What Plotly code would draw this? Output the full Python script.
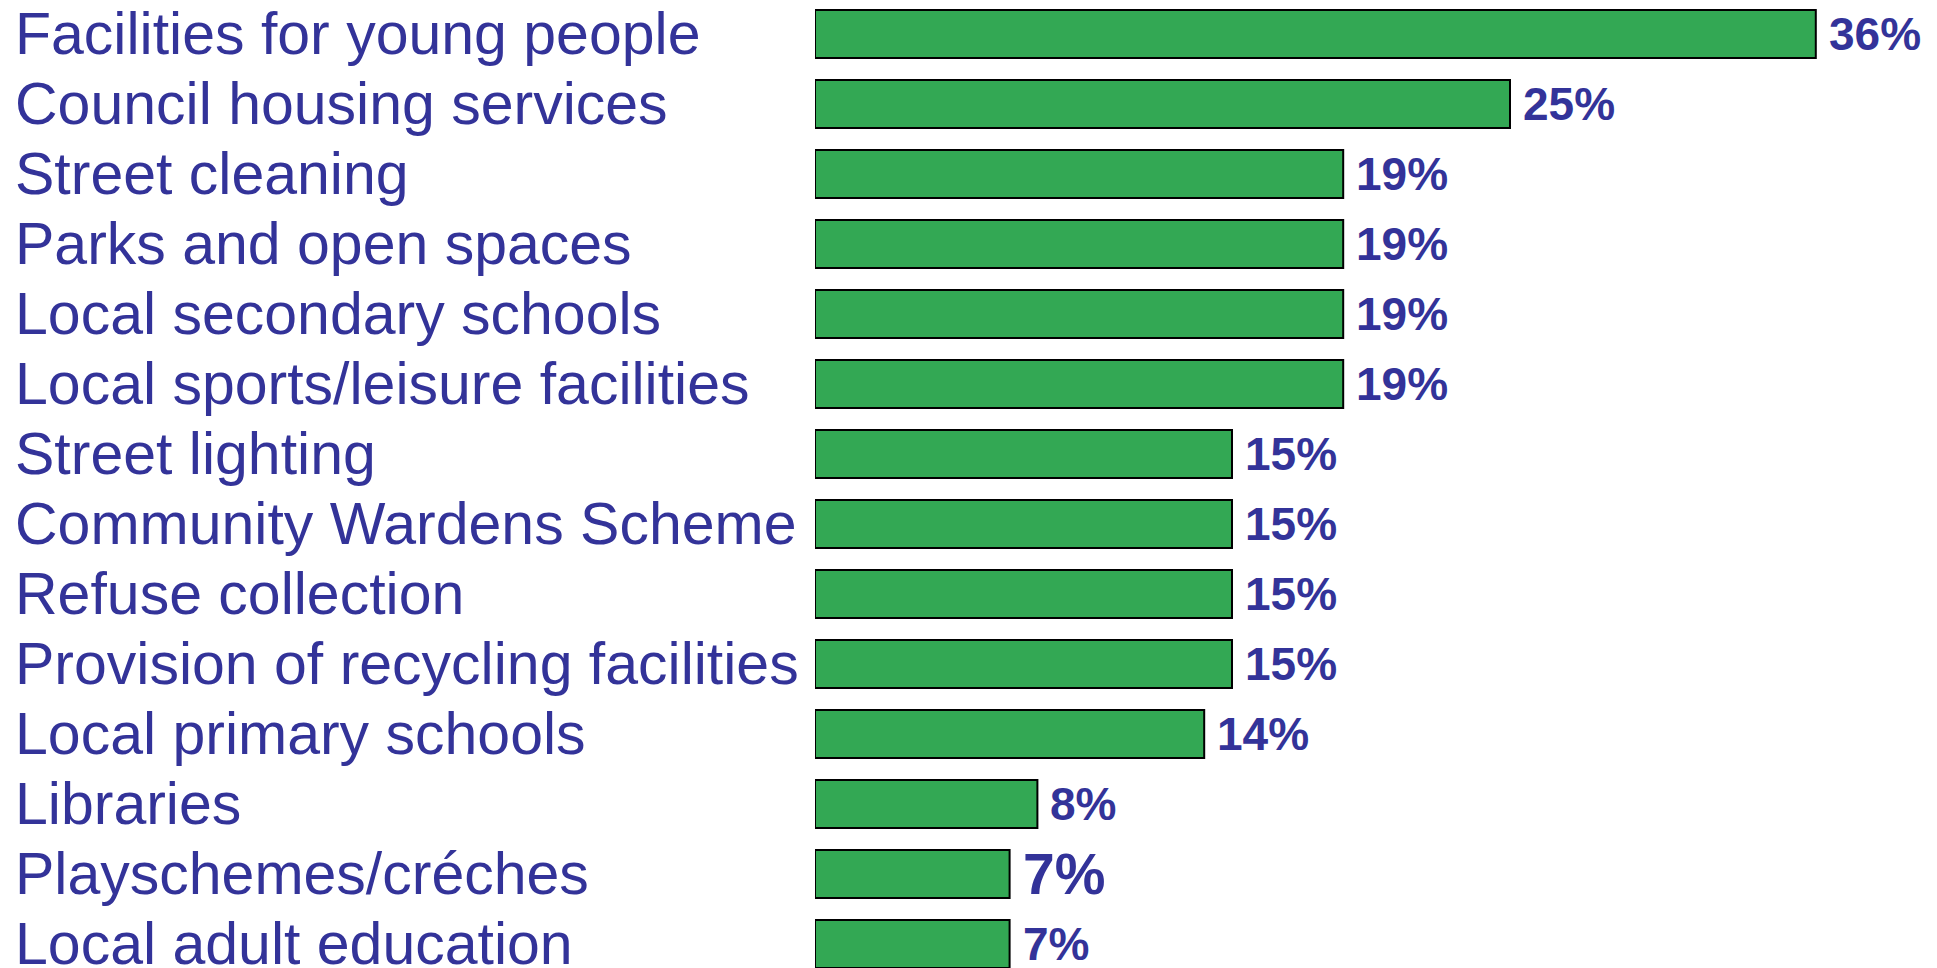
import plotly.graph_objects as go

categories = [
    'Facilities for young people',
    'Council housing services',
    'Street cleaning',
    'Parks and open spaces',
    'Local secondary schools',
    'Local sports/leisure facilities',
    'Street lighting',
    'Community Wardens Scheme',
    'Refuse collection',
    'Provision of recycling facilities',
    'Local primary schools',
    'Libraries',
    'Playschemes/créches',
    'Local adult education',
]
values = [36, 25, 19, 19, 19, 19, 15, 15, 15, 15, 14, 8, 7, 7]
value_labels = [f'{v}%' for v in values]

W, H = 1937, 968
TEXT = '#333399'
GREEN = '#33A854'

fig = go.Figure(go.Bar(
    x=values,
    y=categories,
    orientation='h',
    marker=dict(color=GREEN, line=dict(color='black', width=2)),
    hoverinfo='skip',
))

# category names, left aligned at the page edge
for cat in categories:
    fig.add_annotation(
        x=13 / W, xref='paper', y=cat, yref='y',
        text=cat, showarrow=False, xanchor='left', yanchor='middle',
        font=dict(family='Liberation Sans, Arial', size=59, color=TEXT),
    )

# value labels after the bars (one of them is drawn larger in the original)
big_label = 'Playschemes/créches'
for cat, v, lab in zip(categories, values, value_labels):
    fig.add_annotation(
        x=v, y=cat, text=f'<b>{lab}</b>', showarrow=False,
        xanchor='left', yanchor='middle', xshift=11,
        font=dict(family='Liberation Sans, Arial', size=57 if cat == big_label else 46, color=TEXT),
    )

fig.update_layout(
    width=W, height=H,
    margin=dict(l=0, r=0, t=0, b=0),
    plot_bgcolor='white', paper_bgcolor='white',
    bargap=0.314,
    showlegend=False,
    xaxis=dict(domain=[815 / W, 1], range=[0, 1122 / 27.8], visible=False),
    yaxis=dict(range=[(H - 34) / 70, -34 / 70], visible=False),
)

# drop the default page margin so the figure sits at the window corner
fig.write_html('out.html', config={'displayModeBar': False},
               post_script="document.body.style.margin='0';")
